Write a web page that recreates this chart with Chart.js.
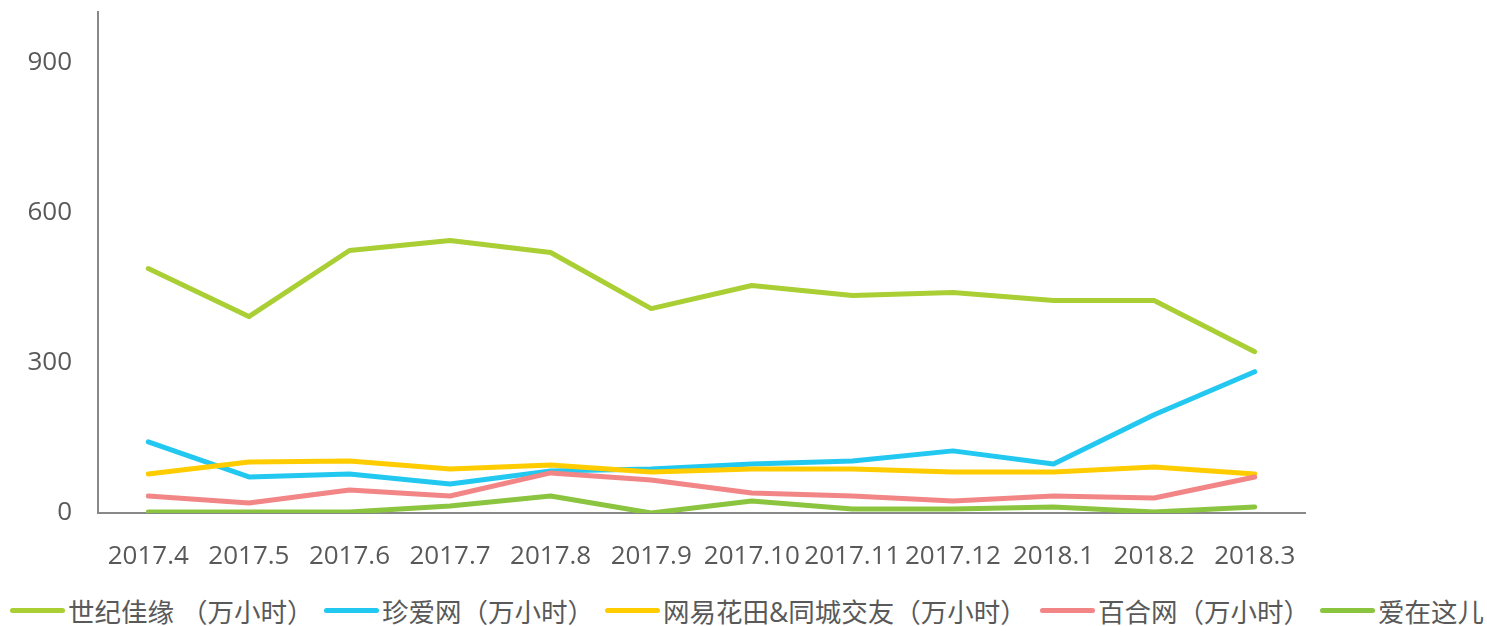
<!DOCTYPE html>
<html>
<head>
<meta charset="utf-8">
<script src="https://cdn.jsdelivr.net/npm/chart.js@4.4.1/dist/chart.umd.min.js"></script>
<style>
  html, body { margin: 0; padding: 0; background: #fff; }
  #wrap { width: 1487px; height: 584px; position: relative; }
  #legend { position: absolute; left: 0; top: 594px; width: 1487px; height: 32px;
            font-family: 'Open Sans', 'Noto Sans CJK SC', sans-serif; font-size: 26.5px; color: #595959; white-space: nowrap; }
  .item { position: absolute; top: 0; height: 32px; display: flex; align-items: center; }
  .swatch { width: 55px; height: 5px; border-radius: 3px; margin-right: 3px; }
</style>
</head>
<body>
<div id="wrap"><canvas id="chart"></canvas></div>
<div id="legend"></div>
<script>
// ─── Data ───
const months = ['2017.4','2017.5','2017.6','2017.7','2017.8','2017.9','2017.10','2017.11','2017.12','2018.1','2018.2','2018.3'];
const seriesNames = ['世纪佳缘 （万小时）', '珍爱网（万小时）', '网易花田&同城交友（万小时）', '百合网（万小时）', '爱在这儿'];
const jiayuan  = [488, 392, 524, 544, 520, 408, 454, 434, 440, 424, 424, 322];
const zhenai   = [142, 72, 78, 58, 84, 88, 98, 104, 124, 98, 196, 282];
const huatian  = [78, 102, 104, 88, 96, 82, 88, 88, 82, 82, 92, 78];
const baihe    = [34, 20, 46, 34, 80, 66, 40, 34, 24, 34, 30, 72];
const aizai    = [2, 2, 2, 14, 34, 0, 24, 8, 8, 12, 2, 12];
const yTicks   = [0, 300, 600, 900];

const colors = ['#a9cf35', '#22c8f0', '#ffcc00', '#f28686', '#8bc43f'];
const legendX = [10, 324, 605, 1040, 1320];
const FONT = "'Open Sans', 'Noto Sans CJK SC', sans-serif";
const TXT = '#595959';

const allSeries = [jiayuan, zhenai, huatian, baihe, aizai];
const datasets = allSeries.map((d, i) => ({
    label: seriesNames[i],
    data: d,
    borderColor: colors[i],
    backgroundColor: colors[i],
    borderWidth: 5,
    pointRadius: 0,
    borderCapStyle: 'round',
    borderJoinStyle: 'round',
    tension: 0,
    order: allSeries.length - i
}));

new Chart(document.getElementById('chart'), {
    type: 'line',
    data: { labels: months, datasets },
    options: {
        responsive: true,
        maintainAspectRatio: false,
        animation: false,
        layout: { padding: { left: 0, right: 182, top: 12, bottom: 0 } },
        plugins: {
            tooltip: { enabled: false },
            legend: { display: false }
        },
        scales: {
            x: {
                offset: true,
                grid: { display: false, drawTicks: false },
                border: { color: '#888', width: 2 },
                ticks: { color: TXT, font: { family: FONT, size: 26 }, padding: 28, maxRotation: 0, autoSkip: false },
                afterFit: s => { s.height = 71; s.paddingLeft = 0; s.paddingRight = 0; }
            },
            y: {
                min: 0, max: 1000,
                grid: { display: false, drawTicks: false },
                border: { color: '#888', width: 2 },
                ticks: { color: TXT, font: { family: FONT, size: 26 }, padding: 26, stepSize: 300 },
                afterBuildTicks: s => { s.ticks = yTicks.map(v => ({ value: v })); },
                afterFit: s => { s.width = 98; s.paddingTop = 0; s.paddingBottom = 0; }
            }
        }
    }
});

// ─── Legend (HTML, single row like the original) ───
const legend = document.getElementById('legend');
seriesNames.forEach((name, i) => {
    const item = document.createElement('div');
    item.className = 'item';
    item.style.left = legendX[i] + 'px';
    const sw = document.createElement('span');
    sw.className = 'swatch';
    sw.style.background = colors[i];
    const t = document.createElement('span');
    t.textContent = name;
    item.appendChild(sw);
    item.appendChild(t);
    legend.appendChild(item);
});
</script>
</body>
</html>
